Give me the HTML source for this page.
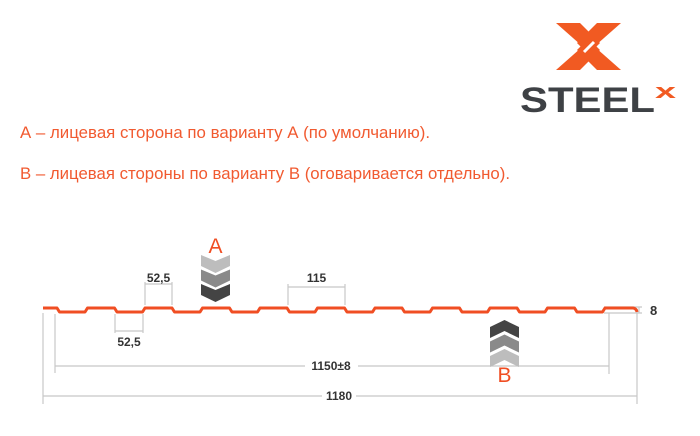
<!DOCTYPE html>
<html><head><meta charset="utf-8"><style>
html,body{margin:0;padding:0;background:#fff;}
svg{display:block}
</style></head><body>
<svg width="700" height="436" viewBox="0 0 700 436" xmlns="http://www.w3.org/2000/svg" font-family="Liberation Sans, sans-serif">
<!-- logo -->
<g fill="#f15a22">
<polygon points="556,23 580,23 600,43 590,53"/>
<polygon points="621,23 597,23 577,43 587,53"/>
<polygon points="556,70 580,70 600,50 590,40"/>
<polygon points="621,70 597,70 577,50 587,40"/>
</g>
<line x1="584" y1="52" x2="594" y2="42" stroke="#fff" stroke-width="3"/>
<text x="520" y="112" font-size="35" font-weight="bold" fill="#3e4145" textLength="135" lengthAdjust="spacingAndGlyphs">STEEL</text>
<text x="655" y="98" font-size="20" font-weight="bold" fill="#f15a22" textLength="21" lengthAdjust="spacingAndGlyphs">x</text>
<!-- texts -->
<text x="20" y="138" font-size="17" fill="#f15a30" textLength="410" lengthAdjust="spacingAndGlyphs">А – лицевая сторона по варианту А (по умолчанию).</text>
<text x="20" y="179" font-size="17" fill="#f15a30" textLength="490" lengthAdjust="spacingAndGlyphs">В – лицевая стороны по варианту В (оговаривается отдельно).</text>
<!-- dimension lines -->
<g stroke="#c8c8c8" stroke-width="1.2" fill="none">
<line x1="145" y1="282" x2="145" y2="305"/><line x1="172" y1="282" x2="172" y2="305"/><line x1="145" y1="284" x2="172" y2="284"/>
<line x1="115" y1="314" x2="115" y2="333"/><line x1="143" y1="314" x2="143" y2="333"/><line x1="115" y1="331" x2="143" y2="331"/>
<line x1="288" y1="284" x2="288" y2="305"/><line x1="345" y1="284" x2="345" y2="305"/><line x1="288" y1="287" x2="345" y2="287"/>
<line x1="55" y1="314" x2="55" y2="373"/><line x1="609" y1="313" x2="609" y2="374"/>
<line x1="55" y1="366" x2="305" y2="366"/><line x1="358" y1="366" x2="609" y2="366"/>
<line x1="43" y1="313" x2="43" y2="404"/><line x1="637" y1="312" x2="637" y2="404"/>
<line x1="43" y1="396" x2="322" y2="396"/><line x1="356" y1="396" x2="637" y2="396"/>
<line x1="604" y1="307" x2="642" y2="307"/><line x1="604" y1="313" x2="642" y2="313"/><line x1="639" y1="307" x2="639" y2="313"/>
</g>
<g font-size="12" font-weight="bold" fill="#333">
<text x="158.5" y="282" text-anchor="middle">52,5</text>
<text x="129" y="346" text-anchor="middle">52,5</text>
<text x="316.5" y="282" text-anchor="middle">115</text>
<text x="331" y="370" text-anchor="middle">1150±8</text>
<text x="339" y="400" text-anchor="middle">1180</text>
<text x="650" y="315" font-size="13">8</text>
</g>
<!-- profile -->
<path d="M43,308 L57,308 L59.5,312 L85,312 L87.5,308 L114.5,308 L117,312 L142.5,312 L145,308 L172,308 L174.5,312 L200,312 L202.5,308 L229.5,308 L232,312 L257.5,312 L260,308 L287,308 L289.5,312 L315,312 L317.5,308 L344.5,308 L347,312 L372.5,312 L375,308 L402,308 L404.5,312 L430,312 L432.5,308 L459.5,308 L462,312 L487.5,312 L490,308 L517,308 L519.5,312 L545,312 L547.5,308 L574.5,308 L577,312 L602.5,312 L605,308 L633,308 Q636.5,308.5 637,312" fill="none" stroke="#f04e23" stroke-width="3" stroke-linejoin="round"/>
<!-- chevrons A (down) -->
<polygon points="201,255 215.5,261 230,255 230,266 215.5,273 201,266" fill="#bdbdbd"/>
<polygon points="201,269.5 215.5,275.5 230,269.5 230,280.5 215.5,287.5 201,280.5" fill="#8a8a8a"/>
<polygon points="201,284 215.5,290 230,284 230,295 215.5,302 201,295" fill="#444"/>
<text x="215.5" y="253" font-size="21" fill="#f04e23" text-anchor="middle">A</text>
<!-- chevrons B (up) -->
<polygon points="490,338 504.5,331 519,338 519,327 504.5,320 490,327" fill="#444"/>
<polygon points="490,352.5 504.5,345.5 519,352.5 519,341.5 504.5,334.5 490,341.5" fill="#8a8a8a"/>
<polygon points="490,367 504.5,360 519,367 519,356 504.5,349 490,356" fill="#bdbdbd"/>
<text x="504.5" y="382" font-size="21" fill="#f04e23" text-anchor="middle">B</text>
</svg>
</body></html>
